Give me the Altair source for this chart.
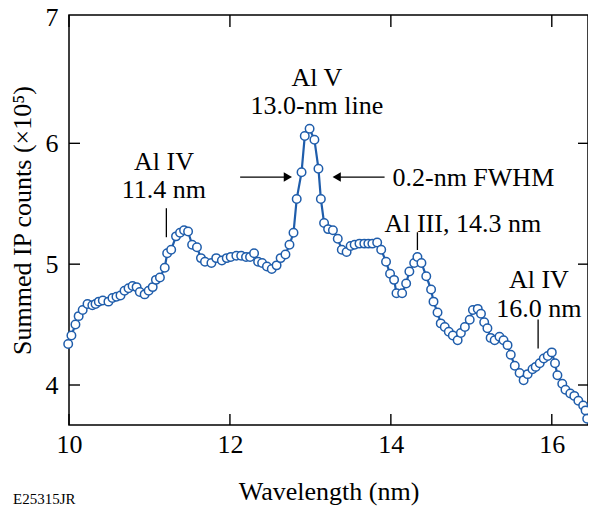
import altair as alt
import pandas as pd

# ---- data ----
wavelength = [9.99, 10.03, 10.08, 10.12, 10.17, 10.23, 10.29, 10.33, 10.37, 10.42,
              10.49, 10.54, 10.59, 10.64, 10.69, 10.74, 10.79, 10.84, 10.88, 10.94,
              10.99, 11.04, 11.08, 11.13, 11.19, 11.22, 11.27, 11.33, 11.38, 11.43,
              11.48, 11.53, 11.59, 11.64, 11.69, 11.77, 11.83, 11.90, 11.96, 12.01,
              12.08, 12.14, 12.20, 12.25, 12.30, 12.35, 12.40, 12.46, 12.52, 12.58,
              12.63, 12.69, 12.74, 12.79, 12.83, 12.89, 12.93, 12.99, 13.05, 13.10,
              13.13, 13.17, 13.22, 13.28, 13.34, 13.39, 13.45, 13.50, 13.55, 13.61,
              13.67, 13.72, 13.77, 13.83, 13.88, 13.94, 13.99, 14.04, 14.07, 14.14,
              14.19, 14.23, 14.29, 14.33, 14.38, 14.44, 14.50, 14.53, 14.58, 14.62,
              14.67, 14.72, 14.77, 14.83, 14.87, 14.92, 14.98, 15.02, 15.08, 15.12,
              15.16, 15.20, 15.24, 15.29, 15.35, 15.40, 15.45, 15.49, 15.54, 15.60,
              15.65, 15.70, 15.76, 15.80, 15.85, 15.90, 15.95, 16.00, 16.04, 16.07,
              16.13, 16.17, 16.23, 16.28, 16.33, 16.39, 16.42, 16.44]
counts = [4.34, 4.41, 4.50, 4.57, 4.62, 4.67, 4.66, 4.67, 4.69, 4.70,
          4.69, 4.72, 4.73, 4.74, 4.78, 4.80, 4.82, 4.81, 4.77, 4.75,
          4.78, 4.81, 4.87, 4.89, 4.97, 5.09, 5.12, 5.23, 5.26, 5.28,
          5.27, 5.16, 5.14, 5.05, 5.02, 5.01, 5.05, 5.03, 5.05, 5.06,
          5.07, 5.07, 5.06, 5.06, 5.09, 5.02, 5.01, 4.98, 4.96, 4.99,
          5.05, 5.08, 5.16, 5.26, 5.54, 5.76, 6.06, 6.12, 6.03, 5.79,
          5.54, 5.34, 5.29, 5.28, 5.21, 5.12, 5.10, 5.15, 5.16, 5.17,
          5.17, 5.17, 5.17, 5.18, 5.12, 5.02, 4.92, 4.87, 4.76, 4.76,
          4.84, 4.94, 5.01, 5.06, 5.01, 4.90, 4.79, 4.69, 4.60, 4.51,
          4.48, 4.44, 4.41, 4.37, 4.43, 4.48, 4.54, 4.62, 4.63, 4.59,
          4.52, 4.47, 4.39, 4.37, 4.40, 4.37, 4.33, 4.25, 4.16, 4.10,
          4.04, 4.09, 4.13, 4.15, 4.18, 4.22, 4.24, 4.27, 4.18, 4.08,
          4.01, 3.96, 3.93, 3.91, 3.87, 3.83, 3.79, 3.72]

x_ticks = [10, 12, 14, 16]
y_ticks = [4, 5, 6, 7.04]

label_text = ["Al V", "13.0-nm line", "Al IV", "11.4 nm", "Al IV", "16.0 nm"]
label_x = [13.08, 13.08, 11.18, 11.18, 15.84, 15.84]
label_y = [6.474, 6.242, 5.779, 5.545, 4.800, 4.565]

left_text = ["0.2-nm FWHM", "Al III, 14.3 nm"]
left_x = [14.02, 13.92]
left_y = [5.649, 5.268]

leader_x = [11.21, 14.33, 15.83]
leader_y1 = [5.463, 5.264, 4.543]
leader_y2 = [5.223, 5.117, 4.303]

arrow_x1 = [12.127, 13.364]
arrow_x2 = [12.685, 13.922]
arrow_y = [5.721, 5.721]
head_x = [12.72, 13.327]
head_shape = ["triangle-right", "triangle-left"]

BLUE = "#1f5dab"
FONT = "Liberation Serif"
FS = 26
W, H = 519, 410

xs = alt.Scale(domain=[10, 16.45], nice=False, zero=False)
ys = alt.Scale(domain=[3.669, 7.062], nice=False, zero=False)

df = pd.DataFrame({"w": wavelength, "c": counts})

xaxis = alt.Axis(values=x_ticks, tickSize=0, domain=False, grid=False, labelFlush=False,
                 labelFont=FONT, labelFontSize=FS, labelPadding=6, labelColor="black",
                 title="Wavelength (nm)", titleFont=FONT, titleFontSize=FS,
                 titleFontWeight="normal", titlePadding=21, titleColor="black")
yaxis = alt.Axis(values=y_ticks, format=".0f", tickSize=0, domain=False, grid=False,
                 labelFont=FONT, labelFontSize=FS, labelPadding=11, labelColor="black",
                 title="Summed IP counts (×10⁵)", titleFont=FONT, titleFontSize=FS,
                 titleFontWeight="normal", titlePadding=10, titleColor="black")


def X(f):
    return alt.X(f, scale=xs, axis=xaxis)


def Y(f):
    return alt.Y(f, scale=ys, axis=yaxis)


base = alt.Chart(df)
line = base.mark_line(color=BLUE, strokeWidth=2.2).encode(x=X("w:Q"), y=Y("c:Q"))
pts = base.mark_point(shape="circle", filled=True, fill="white", stroke=BLUE,
                      strokeWidth=1.5, size=72, opacity=1).encode(x=X("w:Q"), y=Y("c:Q"))

xt = pd.DataFrame({"t": x_ticks})
yt = pd.DataFrame({"t": y_ticks[:3]})
tick_style = dict(color="black", strokeWidth=1.4)
tb = alt.Chart(xt).mark_rule(**tick_style).encode(
    x=X("t:Q"), y=alt.value(H), y2=alt.value(H - 11))
tt = alt.Chart(xt).mark_rule(**tick_style).encode(
    x=X("t:Q"), y=alt.value(0), y2=alt.value(12))
tl = alt.Chart(yt).mark_rule(**tick_style).encode(
    y=Y("t:Q"), x=alt.value(0), x2=alt.value(11))
tr = alt.Chart(yt).mark_rule(**tick_style).encode(
    y=Y("t:Q"), x=alt.value(W), x2=alt.value(W - 10))

lab = alt.Chart(pd.DataFrame({"t": label_text, "x": label_x, "y": label_y})).mark_text(
    font=FONT, fontSize=FS, color="black", align="center", baseline="alphabetic").encode(
    x=X("x:Q"), y=Y("y:Q"), text="t:N")
labl = alt.Chart(pd.DataFrame({"t": left_text, "x": left_x, "y": left_y})).mark_text(
    font=FONT, fontSize=FS, color="black", align="left", baseline="alphabetic").encode(
    x=X("x:Q"), y=Y("y:Q"), text="t:N")

leaders = alt.Chart(pd.DataFrame({"x": leader_x, "y1": leader_y1, "y2": leader_y2})).mark_rule(
    color="black", strokeWidth=1.3).encode(x=X("x:Q"), y=Y("y1:Q"), y2="y2:Q")

arrows = alt.Chart(pd.DataFrame({"x1": arrow_x1, "x2": arrow_x2, "y": arrow_y})).mark_rule(
    color="black", strokeWidth=1.3).encode(x=X("x1:Q"), x2="x2:Q", y=Y("y:Q"))
heads = alt.Chart(pd.DataFrame({"x": head_x, "y": arrow_y, "s": head_shape})).mark_point(
    filled=True, color="black", size=90, opacity=1).encode(
    x=X("x:Q"), y=Y("y:Q"), shape=alt.Shape("s:N", scale=None, legend=None))

chart = alt.layer(line, pts, tb, tt, tl, tr, leaders, arrows, heads, lab, labl).properties(
    width=W, height=H,
    background="white",
    autosize=alt.AutoSizeParams(type="none"),
    padding={"left": 61, "top": 7, "right": 0, "bottom": 82},
    title=alt.TitleParams("E25315JR", orient="bottom", anchor="start", frame="group",
                          font=FONT, fontSize=15, fontWeight="normal", color="black",
                          dx=-56, offset=-12),
).configure_view(stroke="black", strokeWidth=1.5)

chart.save("out.html", embed_options={"renderer": "svg", "actions": False})
